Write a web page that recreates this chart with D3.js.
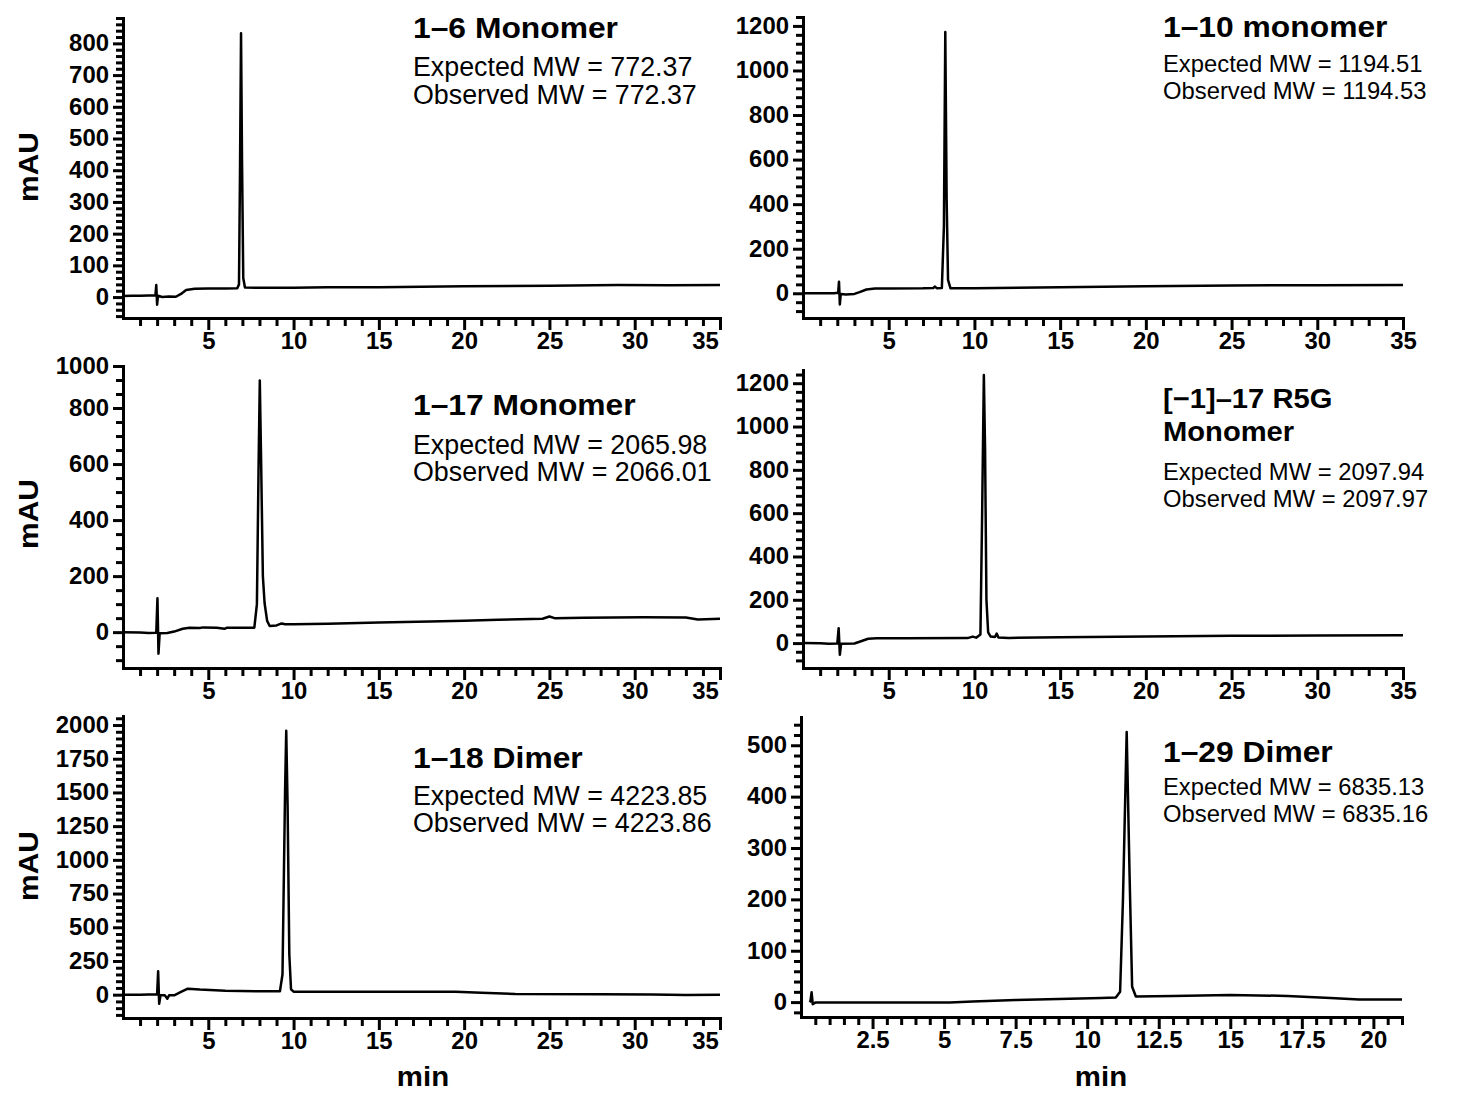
<!DOCTYPE html>
<html>
<head>
<meta charset="utf-8">
<script src="https://cdn.jsdelivr.net/npm/d3@7"></script>
<style>
  body { margin: 0; background: #fff; }
  text { font-family: "Liberation Sans", Arial, Helvetica, sans-serif; fill: #000; }
</style>
</head>
<body>
<svg id="fig" width="1463" height="1093"></svg>
<script>
(function() {

  'use strict'

  // Chromatogram traces, [minutes, mAU].
  var trace1to6 = [[0,3],[0.5,4],[1,4],[1.5,5],[1.9,5],[1.95,38],[2.0,-24],[2.05,4],[2.3,0],[2.7,2],
    [3.1,1],[3.4,10],[3.7,22],[4.2,26],[5,27],[6,27],[6.7,28],[6.8,40],[6.86,400],[6.92,832],[6.98,420],
    [7.05,60],[7.15,30],[8,29],[10,29],[12,31],[15,31],[20,34],[25,36],[29,38],[32,37],[35,38]];

  var trace1to10 = [[0,0],[1,0],[1.8,0],[2.05,2],[2.1,52],[2.15,-50],[2.2,-3],[2.5,-5],[3,-3],[3.3,5],
    [3.7,17],[4.2,21],[5,21],[7,22],[7.6,24],[7.7,30],[7.8,23],[8.1,24],[8.22,300],[8.3,1173],[8.38,420],
    [8.46,60],[8.6,23],[10,23],[15,27],[20,32],[25,35],[30,36],[35,37]];

  var trace1to17 = [[0,0],[1,-1],[1.5,-3],[1.95,-2],[2.02,121],[2.08,-77],[2.15,-4],[2.6,-3],[3,2],
    [3.5,12],[3.9,16],[4.5,15],[4.7,17],[5.5,16],[5.95,12],[6.1,16],[7,16],[7.7,16],[7.85,100],[7.95,600],
    [8.02,898],[8.1,600],[8.2,200],[8.3,104],[8.45,40],[8.6,22],[9,24],[9.3,31],[9.5,28],[10,28],[12,30],
    [15,34],[18,38],[20,41],[22,44],[24.6,48],[25,56],[25.3,50],[27,51],[30.5,53],[33,52],[33.7,45],[35,48]];

  var traceR5G = [[0,0],[1,-1],[1.5,-3],[2.0,-2],[2.08,69],[2.15,-54],[2.22,-3],[3,-2],[3.3,6],[3.8,20],
    [4.3,22],[6,22],[9.6,23],[9.9,30],[10.1,25],[10.35,40],[10.45,600],[10.55,1238],[10.62,900],[10.7,200],
    [10.8,50],[10.95,30],[11.2,28],[11.3,44],[11.4,26],[12,24],[15,27],[20,31],[25,34],[30,35],[35,36]];

  var trace1to18 = [[0,0],[1,0],[1.5,2],[2.0,2],[2.06,173],[2.12,-67],[2.2,-5],[2.45,-5],[2.6,-30],
    [2.7,-5],[3.0,-5],[3.4,20],[3.8,44],[4.5,38],[6,30],[8,25],[9.2,25],[9.35,150],[9.5,1500],[9.57,1958],
    [9.65,1400],[9.75,300],[9.85,40],[10,22],[12,22],[15,22],[19.5,22],[21,15],[23,5],[28,4],[31,2],
    [33,-2],[35,0]];

  var trace1to29 = [[0.3,0],[0.33,2],[0.37,19],[0.41,-4],[0.5,-1],[1,-1],[3,-1],[5.2,-1],[6,1],[7.5,4],
    [9,6],[10.5,8],[11.0,9],[11.15,20],[11.25,200],[11.38,526],[11.48,250],[11.57,30],[11.7,11],[13,12],
    [15,14],[17,12],[18.5,8],[19.5,5],[21,5]];

  var titles = [["1–6 Monomer"], ["1–10 monomer"], ["1–17 Monomer"], ["[−1]–17 R5G", "Monomer"],
                ["1–18 Dimer"], ["1–29 Dimer"]];
  var expectedMW = ["772.37", "1194.51", "2065.98", "2097.94", "4223.85", "6835.13"];
  var observedMW = ["772.37", "1194.53", "2066.01", "2097.97", "4223.86", "6835.16"];

  // Tick values and labels.
  var yTicks1to6   = [0, 100, 200, 300, 400, 500, 600, 700, 800];
  var yTicks1to10  = [0, 200, 400, 600, 800, 1000, 1200];
  var yTicks1to17  = [0, 200, 400, 600, 800, 950];
  var yLabels1to17 = ["0", "200", "400", "600", "800", "1000"];
  var yTicks1to18  = [0, 250, 500, 750, 1000, 1250, 1500, 1750, 2000];
  var yTicks1to29  = [0, 100, 200, 300, 400, 500];
  var xTicksLong   = [5, 10, 15, 20, 25, 30, 35];
  var xTicksShort  = [2.5, 5, 7.5, 10, 12.5, 15, 17.5, 20];

  // Where each panel sits on the page.
  var panels = [
    { trace: trace1to6,  xMax: 35, yMin: -66,  yMax: 880,  left: 123, right: 720,  top: 18,  bottom: 318,
      yTicks: yTicks1to6,  yStep: 20, xTicks: xTicksLong,  xStep: 1,   lastDx: -15,
      tx: 413,  ty: [38],       titleSize: 30, subSize: 26.8, sy: [76, 104], mau: 167 },
    { trace: trace1to10, xMax: 35, yMin: -111, yMax: 1240, left: 803, right: 1403, top: 17,  bottom: 318,
      yTicks: yTicks1to10, yStep: 40, xTicks: xTicksLong,  xStep: 1,   lastDx: 0,
      tx: 1163, ty: [37],       titleSize: 30, subSize: 23.8, sy: [71.5, 98.5] },
    { trace: trace1to17, xMax: 35, yMin: -128, yMax: 950,  left: 123, right: 720,  top: 366, bottom: 668,
      yTicks: yTicks1to17, yLabels: yLabels1to17, yStep: 50, xTicks: xTicksLong, xStep: 1, lastDx: -15,
      tx: 413,  ty: [415],      titleSize: 30, subSize: 26.8, sy: [454, 481], mau: 514 },
    { trace: traceR5G,   xMax: 35, yMin: -115, yMax: 1261, left: 803, right: 1403, top: 370, bottom: 668,
      yTicks: yTicks1to10, yStep: 40, xTicks: xTicksLong,  xStep: 1,   lastDx: 0,
      tx: 1163, ty: [408, 441], titleSize: 27.5, subSize: 23.8, sy: [479.5, 506.5] },
    { trace: trace1to18, xMax: 35, yMin: -173, yMax: 2067, left: 123, right: 720,  top: 716, bottom: 1018,
      yTicks: yTicks1to18, yStep: 50, xTicks: xTicksLong,  xStep: 1,   lastDx: -15,
      tx: 413,  ty: [768],      titleSize: 30, subSize: 26.8, sy: [804.5, 831.5], mau: 866, minX: 423 },
    { trace: trace1to29, xMax: 21, yMin: -29,  yMax: 555,  left: 801, right: 1402, top: 717, bottom: 1017,
      yTicks: yTicks1to29, yStep: 20, xTicks: xTicksShort, xStep: 0.5, lastDx: 0,
      tx: 1163, ty: [762],      titleSize: 30, subSize: 23.8, sy: [794.5, 821.5], minX: 1101 }
  ];

  var svg = d3.select("#fig");
  svg.append("rect").attr("width", 1463).attr("height", 1093).attr("fill", "#fff");

  // The bold face in the figure runs a little wider than Liberation Sans Bold.
  function widen(sel, k) {
    sel.each(function() {
      var w = this.getComputedTextLength();
      d3.select(this).attr("textLength", w * k).attr("lengthAdjust", "spacingAndGlyphs");
    });
  }

  function styleAxis(g) {
    g.select(".domain").attr("stroke-width", 3).attr("stroke-linecap", "square");
    g.selectAll(".tick line").attr("stroke-width", 3);
    g.selectAll(".tick text")
     .style("font-size", "23px").style("font-weight", "bold");
  }

  panels.forEach(function(p, i) {
    var x = d3.scaleLinear().domain([0, p.xMax]).range([p.left, p.right]);
    var y = d3.scaleLinear().domain([p.yMin, p.yMax]).range([p.bottom, p.top]);
    var g = svg.append("g");

    // Minor ticks first, majors drawn over them.
    var yMinor = d3.range(Math.ceil(p.yMin / p.yStep) * p.yStep, p.yMax + 1e-6, p.yStep)
                   .filter(function(v) { return p.yTicks.indexOf(v) < 0; });
    var xMinor = d3.range(p.xStep, p.xMax + 1e-6, p.xStep)
                   .filter(function(v) { return p.xTicks.indexOf(v) < 0; });

    g.append("g").attr("transform", "translate(" + p.left + ",0)")
     .call(d3.axisLeft(y).tickValues(yMinor).tickSize(7).tickSizeOuter(0).tickFormat(""))
     .call(styleAxis);

    var yLabels = p.yLabels || p.yTicks.map(String);
    var yAxis = g.append("g").attr("transform", "translate(" + p.left + ",0)")
     .call(d3.axisLeft(y).tickValues(p.yTicks).tickSize(10).tickSizeOuter(0).tickPadding(4)
             .tickFormat(function(d, j) { return yLabels[j]; }))
     .call(styleAxis);
    widen(yAxis.selectAll(".tick text"), 1.04);

    g.append("g").attr("transform", "translate(0," + p.bottom + ")")
     .call(d3.axisBottom(x).tickValues(xMinor).tickSize(8).tickSizeOuter(0).tickFormat(""))
     .call(styleAxis);

    var xAxis = g.append("g").attr("transform", "translate(0," + p.bottom + ")")
     .call(d3.axisBottom(x).tickValues(p.xTicks).tickSize(12).tickSizeOuter(0).tickPadding(3)
             .tickFormat(function(d) { return String(d); }))
     .call(styleAxis);
    xAxis.selectAll(".tick text")
         .attr("dx", function(d) { return d === p.xMax ? p.lastDx : 0; });
    widen(xAxis.selectAll(".tick text"), 1.04);

    // The trace itself.
    var line = d3.line()
                 .x(function(d) { return x(d[0]); })
                 .y(function(d) { return y(d[1]); });
    g.append("path")
     .datum(p.trace)
     .attr("d", line)
     .attr("fill", "none")
     .attr("stroke", "#000")
     .attr("stroke-width", 2.5)
     .attr("stroke-linejoin", "round");

    // Title and masses.
    titles[i].forEach(function(t, j) {
      g.append("text")
       .attr("x", p.tx).attr("y", p.ty[j])
       .style("font-size", p.titleSize + "px").style("font-weight", "bold")
       .text(t)
       .call(widen, 1.06);
    });
    g.append("text").attr("x", p.tx).attr("y", p.sy[0])
     .style("font-size", p.subSize + "px")
     .text("Expected MW = " + expectedMW[i]);
    g.append("text").attr("x", p.tx).attr("y", p.sy[1])
     .style("font-size", p.subSize + "px")
     .text("Observed MW = " + observedMW[i]);

    if (p.mau) {
      g.append("text")
       .attr("transform", "translate(28," + p.mau + ") rotate(-90)")
       .attr("text-anchor", "middle").attr("dy", "0.36em")
       .style("font-size", "28px").style("font-weight", "bold")
       .text("mAU")
       .call(widen, 1.07);
    }
    if (p.minX) {
      g.append("text")
       .attr("x", p.minX).attr("y", 1086)
       .attr("text-anchor", "middle")
       .style("font-size", "28px").style("font-weight", "bold")
       .text("min")
       .call(widen, 1.05);
    }
  });

})();
</script>
</body>
</html>
